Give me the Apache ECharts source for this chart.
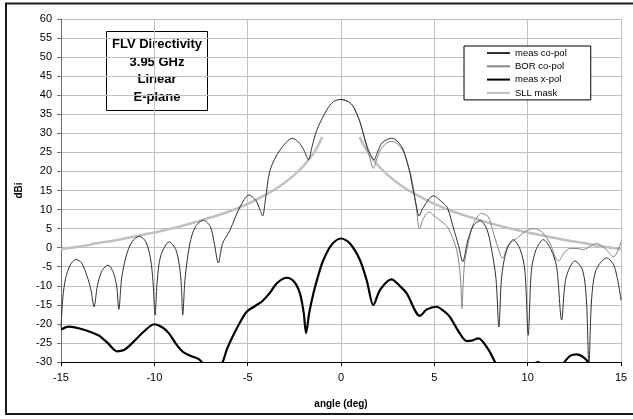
<!DOCTYPE html>
<html>
<head>
<meta charset="utf-8">
<title>FLV Directivity 3.95 GHz, E-plane</title>
<script src="https://cdn.jsdelivr.net/npm/echarts@6/dist/echarts.min.js"></script>
<style>
  html, body { margin: 0; padding: 0; background: #fff; }
  #chart { width: 633px; height: 419px; }
</style>
</head>
<body>
<div id="chart"></div>
<script>
// Axis ranges and ticks (degrees, dBi)
const angleRange = [-15, 15];
const angleStep = 5;
const dbRange = [-30, 60];
const dbStep = 5;

const seriesNames = ['meas co-pol', 'BOR co-pol', 'meas x-pol', 'SLL mask'];
const titleLines = ['FLV Directivity', '3.95 GHz', 'Linear', 'E-plane'];

// Measured co-polar pattern [angle, dBi]
const measCoPol = [
  [-15,-21],[-14.9,-13],[-14.75,-8],[-14.5,-4.5],[-14.2,-3.1],[-13.9,-4],[-13.6,-7.5],[-13.4,-11],
  [-13.23,-15.5],[-13.05,-10],[-12.8,-6],[-12.47,-4.6],[-12.2,-6.5],[-12.02,-10],[-11.9,-16.2],
  [-11.75,-8],[-11.5,-2],[-11.2,1.5],[-10.8,3],[-10.45,1.5],[-10.2,-3],[-10.07,-9],[-9.96,-17.7],
  [-9.85,-9],[-9.65,-2],[-9.2,1.5],[-8.85,-0.5],[-8.65,-5],[-8.55,-10],[-8.48,-17.7],[-8.35,-8],
  [-8.1,1],[-7.8,5.5],[-7.37,7.2],[-7.0,5.5],[-6.8,1.5],[-6.57,-4.0],[-6.35,1],[-5.95,4.6],
  [-5.41,10.7],[-4.93,13.8],[-4.55,12.3],[-4.35,10],[-4.2,8.3],[-4.05,12.5],[-3.8,20.3],
  [-3.27,25.6],[-2.6,28.7],[-2.2,27.3],[-1.95,25.2],[-1.75,23.1],[-1.55,26.5],[-1.3,30.8],
  [-0.77,36.1],[-0.41,38.3],[0,38.9],
  [0.4,38.3],[0.66,37],[1.0,33.2],[1.19,30],[1.4,26.5],[1.55,24.7],[1.77,23],[1.95,25],
  [2.2,27.5],[2.7,28.7],[3.0,28],[3.34,25.6],[3.7,19.5],[3.79,17],[4.05,10.7],[4.18,8.3],
  [4.4,10.5],[4.95,13.6],[5.4,12],[5.7,10.5],[6.0,5.5],[6.3,0.5],[6.52,-3.7],[6.8,2],[7.1,5.8],
  [7.45,7.1],[7.8,5],[8.05,0],[8.3,-8],[8.46,-20.8],[8.6,-8],[8.85,-1],[9.23,2.1],[9.6,-0.5],
  [9.85,-6],[10.03,-23],[10.2,-6],[10.45,-0.5],[10.84,2.1],[11.25,-0.5],[11.55,-5],[11.82,-19],
  [12.05,-8],[12.53,-3.5],[12.95,-6],[13.15,-14],[13.28,-31],[13.42,-14],[13.65,-6],[14.23,-2.7],
  [14.65,-5],[15,-13.8]
];

// BOR-computed co-polar pattern, forward half [angle, dBi]
const borCoPol = [
  [0,38.9],[0.4,38.3],[0.66,37],[1.0,33.2],[1.19,30],[1.4,26],[1.55,23.5],[1.73,20.8],[1.9,23],
  [2.1,25.5],[2.4,27.3],[2.7,27.9],[3.0,27.3],[3.34,25.2],[3.7,19.8],[3.9,15],[4.05,10],[4.2,5.0],
  [4.45,8],[4.73,9.4],[5.0,8.3],[5.3,7.2],[5.75,5.1],[6.2,-0.7],[6.4,-8],[6.48,-16],[6.56,-8],
  [6.64,-3.3],[6.85,2],[7.09,6.3],[7.53,9.0],[7.89,8.1],[8.1,5],[8.34,1.1],[8.66,-2.8],[8.96,0.7],
  [9.41,2.4],[9.86,4.2],[10.3,5.0],[10.75,4.2],[11.2,1.1],[11.64,-3.5],[12.0,-1.1],[12.27,-0.2],
  [12.6,-0.2],[12.98,-0.5],[13.4,0.5],[13.7,1.1],[14.14,-0.2],[14.6,-2.4],[15,1.5]
];

// Measured cross-polar pattern [angle, dBi]; parts below -30 fall outside the plot
const measXPol = [
  [-15,-21.5],[-14.6,-20.7],[-14,-21.2],[-13,-23],[-12.5,-25],[-12,-27.2],[-11.6,-26.8],
  [-11.2,-25.1],[-10.6,-22.2],[-10,-20.1],[-9.6,-20.8],[-9.25,-22.3],[-8.8,-25.5],[-8.45,-27.4],
  [-8,-28.5],[-7.6,-29.3],[-7.3,-31],[-7,-33],[-6.6,-32],[-6.34,-30],[-6.1,-26.5],[-5.77,-23],
  [-5.4,-19.5],[-5.05,-16.8],[-4.6,-15.3],[-4.25,-14.2],[-3.8,-11.8],[-3.45,-9.4],[-2.9,-7.9],
  [-2.5,-9],[-2.2,-12],[-2,-17],[-1.87,-22.4],[-1.7,-17],[-1.48,-12],[-1.2,-7],[-0.95,-3.3],
  [-0.5,0.8],[0,2.4],[0.48,1.1],[1.02,-3.3],[1.4,-9],[1.73,-15.1],[2.1,-11],[2.71,-8.3],
  [3.2,-10.3],[3.52,-12],[4.23,-17.9],[4.6,-16.2],[5.12,-15.5],[5.5,-16.6],[5.84,-18.2],
  [6.3,-22],[6.73,-24.5],[7,-24.4],[7.36,-23.8],[7.89,-26.7],[8.25,-30],[8.6,-33],[9.5,-34],
  [10.2,-31],[10.55,-30],[10.9,-31],[11.6,-32],[12.0,-29.8],[12.27,-28.4],[12.62,-28],
  [13.0,-28.8],[13.3,-30.5],[13.6,-33],[14.5,-35],[15,-34]
];

// Sidelobe-level mask, left and right branches [angle, dBi]
const sllMaskLeft = [
  [-15,-0.4],[-14,0.3],[-13,1.2],[-12,2.0],[-11,3.0],[-10,4.0],[-9,5.1],[-8,6.4],[-7,7.9],
  [-6,9.5],[-5,11.5],[-4,14.0],[-3.5,15.4],[-3,17.1],[-2.5,19.1],[-2,21.5],[-1.5,24.6],
  [-1.25,26.6],[-1,29.0]
];
const sllMaskRight = [
  [1,29.0],[1.25,26.6],[1.5,24.6],[2,21.5],[2.5,19.1],[3,17.1],[3.5,15.4],[4,14.0],[5,11.5],
  [6,9.5],[7,7.9],[8,6.4],[9,5.1],[10,4.0],[11,3.0],[12,2.0],[13,1.2],[14,0.3],[15,-0.4]
];

const FONT = '"Liberation Sans", Arial, sans-serif';
const chart = echarts.init(document.getElementById('chart'), null, { renderer: 'canvas' });

function lineSeries(name, data, color, width, z) {
  return {
    name, type: 'line', data, z,
    symbol: 'none', showSymbol: false,
    smooth: 0.3, clip: true,
    lineStyle: { color, width },
    itemStyle: { color },
    emphasis: { disabled: true },
    animation: false
  };
}

chart.setOption({
  animation: false,
  backgroundColor: '#fff',
  grid: { left: 61, right: 12, top: 19, bottom: 57, containLabel: false },
  legend: {
    data: seriesNames,
    orient: 'vertical',
    left: 464, top: 46,
    padding: [2, 24, 2, 22],
    itemWidth: 23, itemHeight: 10, itemGap: 3.3,
    itemStyle: { opacity: 0 },
    backgroundColor: '#fff', borderColor: '#000', borderWidth: 1,
    textStyle: { fontFamily: FONT, fontSize: 9.5, color: '#000', lineHeight: 10 },
    selectedMode: false
  },
  xAxis: {
    type: 'value', min: angleRange[0], max: angleRange[1], interval: angleStep,
    name: 'angle (deg)', nameLocation: 'middle', nameGap: 37,
    nameTextStyle: { fontFamily: FONT, fontSize: 10, fontWeight: 'bold', color: '#000' },
    axisLine: { onZero: false, lineStyle: { color: '#000', width: 1 } },
    axisTick: { show: true, length: 4, lineStyle: { color: '#000' } },
    axisLabel: { fontFamily: FONT, fontSize: 11, color: '#000', margin: 10 },
    splitLine: { show: true, lineStyle: { color: '#c0c0c0', width: 1 } }
  },
  yAxis: {
    type: 'value', min: dbRange[0], max: dbRange[1], interval: dbStep,
    name: 'dBi', nameLocation: 'middle', nameGap: 37, nameRotate: 90,
    nameTextStyle: { fontFamily: FONT, fontSize: 10, fontWeight: 'bold', color: '#000' },
    axisLine: { show: true, onZero: false, lineStyle: { color: '#707070', width: 1 } },
    axisTick: { show: true, length: 4, lineStyle: { color: '#707070' } },
    axisLabel: { fontFamily: FONT, fontSize: 11, color: '#000', margin: 9 },
    splitLine: { show: true, lineStyle: { color: '#c0c0c0', width: 1 } }
  },
  series: [
    lineSeries(seriesNames[0], measCoPol, '#303030', 1, 4),
    lineSeries(seriesNames[1], borCoPol, '#858585', 1, 3),
    lineSeries(seriesNames[2], measXPol, '#000000', 2.2, 5),
    lineSeries(seriesNames[3], sllMaskLeft, '#c0c0c0', 2.5, 2),
    lineSeries(seriesNames[3], sllMaskRight, '#c0c0c0', 2.5, 2)
  ],
  graphic: [
    {
      type: 'rect', silent: true, z: 100,
      shape: { x: 6, y: 3.5, width: 700, height: 410.5 },
      style: { fill: null, stroke: '#1a1a1a', lineWidth: 2 }
    },
    {
      type: 'group', z: 100, silent: true,
      children: [
        {
          type: 'rect',
          shape: { x: 106.5, y: 31.5, width: 101, height: 79 },
          style: { fill: '#fff', stroke: '#000', lineWidth: 1 }
        },
        {
          type: 'text',
          style: {
            x: 157, y: 71,
            text: titleLines.join('\n'),
            align: 'center', verticalAlign: 'middle',
            font: 'bold 13px ' + FONT,
            lineHeight: 17.6,
            fill: '#000'
          }
        }
      ]
    }
  ]
});
</script>
</body>
</html>
